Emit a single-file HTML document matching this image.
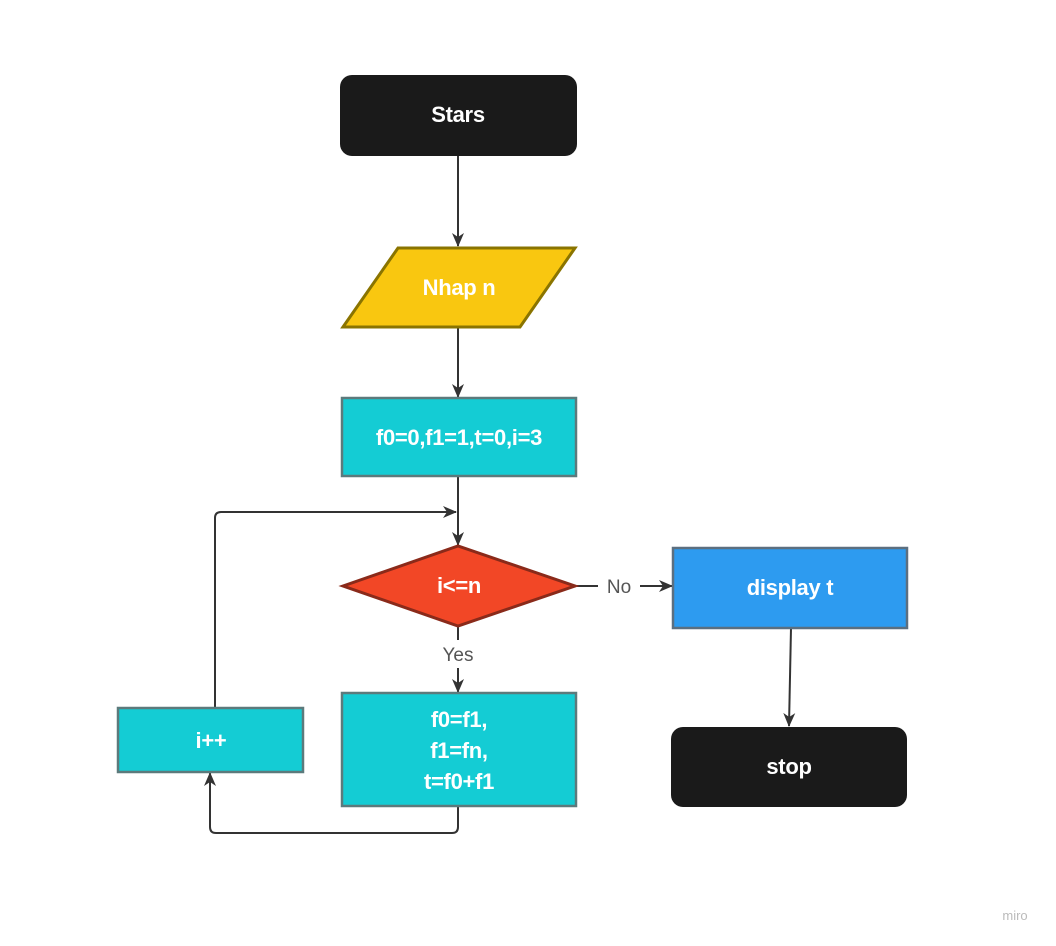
<!DOCTYPE html>
<html><head><style>
html,body{margin:0;padding:0;background:#fff;width:1056px;height:946px;overflow:hidden}
svg text{font-family:"Liberation Sans",sans-serif}
.t{fill:#fff;font-weight:900;font-size:22px;text-anchor:middle;letter-spacing:-0.3px}
.l{fill:none;stroke:#333;stroke-width:2}
.lab{fill:#555;font-size:19px;text-anchor:middle}
</style></head><body>
<svg width="1056" height="946" xmlns="http://www.w3.org/2000/svg">
<defs><marker id="a" markerWidth="16" markerHeight="16" refX="13" refY="6" orient="auto" markerUnits="userSpaceOnUse"><path d="M0,0 L14,6 L0,12 L4,6 z" fill="#333"/></marker></defs>
<path class="l" d="M458,156 V246" marker-end="url(#a)"/>
<path class="l" d="M458,327 V397" marker-end="url(#a)"/>
<path class="l" d="M458,476 V545" marker-end="url(#a)"/>
<path class="l" d="M215,708 V518 Q215,512 221,512 H456" marker-end="url(#a)"/>
<path class="l" d="M458,806 V827 Q458,833 452,833 H216 Q210,833 210,827 V773" marker-end="url(#a)"/>
<path class="l" d="M577,586 H598"/>
<path class="l" d="M640,586 H672" marker-end="url(#a)"/>
<text class="lab" x="619" y="593">No</text>
<path class="l" d="M458,626 V640"/>
<path class="l" d="M458,668 V692" marker-end="url(#a)"/>
<text class="lab" x="458" y="661">Yes</text>
<path class="l" d="M791,628 L789,726" marker-end="url(#a)"/>
<rect x="340" y="75" width="237" height="81" rx="12" fill="#1a1a1a"/>
<text class="t" x="458" y="122">Stars</text>
<polygon points="343,327 398,248 575,248 520,327" fill="#f9c710" stroke="#8a7400" stroke-width="3"/>
<text class="t" x="459" y="295">Nhap n</text>
<rect x="342" y="398" width="234" height="78" fill="#14ccd4" stroke="#5c7a7c" stroke-width="2.5"/>
<text class="t" x="459" y="445">f0=0,f1=1,t=0,i=3</text>
<polygon points="343,586 458,546 575,586 458,626" fill="#f24726" stroke="#8a2a1a" stroke-width="3"/>
<text class="t" x="459" y="593">i&lt;=n</text>
<rect x="673" y="548" width="234" height="80" fill="#2d9bf0" stroke="#5b6f80" stroke-width="2.5"/>
<text class="t" x="790" y="595">display t</text>
<rect x="671" y="727" width="236" height="80" rx="12" fill="#1a1a1a"/>
<text class="t" x="789" y="774">stop</text>
<rect x="118" y="708" width="185" height="64" fill="#14ccd4" stroke="#5c7a7c" stroke-width="2.5"/>
<text class="t" x="211" y="748">i++</text>
<rect x="342" y="693" width="234" height="113" fill="#14ccd4" stroke="#5c7a7c" stroke-width="2.5"/>
<text class="t" x="459" y="727">f0=f1,</text>
<text class="t" x="459" y="758">f1=fn,</text>
<text class="t" x="459" y="789">t=f0+f1</text>
<text x="1015" y="920" fill="#bbb" font-size="13" text-anchor="middle">miro</text>
</svg>
</body></html>
